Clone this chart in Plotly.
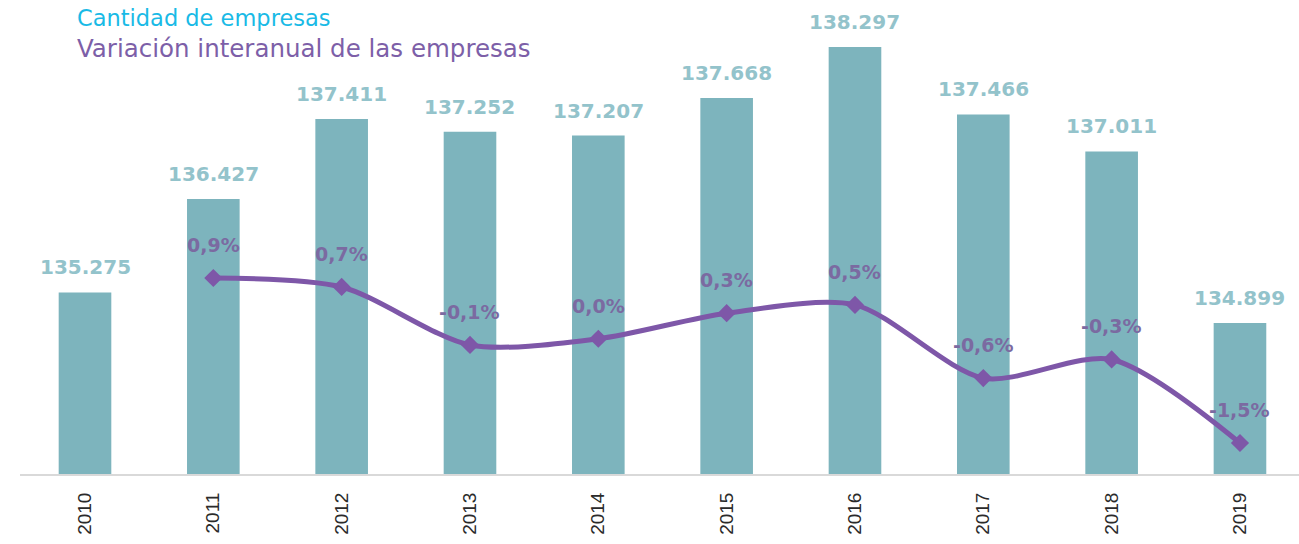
import plotly.graph_objects as go

years = [2010, 2011, 2012, 2013, 2014, 2015, 2016, 2017, 2018, 2019]
empresas = [135275, 136427, 137411, 137252, 137207, 137668, 138297, 137466, 137011, 134899]
empresas_labels = ["135.275", "136.427", "137.411", "137.252", "137.207", "137.668", "138.297", "137.466", "137.011", "134.899"]
var_years = [2011, 2012, 2013, 2014, 2015, 2016, 2017, 2018, 2019]
variacion = [0.85, 0.72, -0.12, -0.03, 0.34, 0.46, -0.60, -0.33, -1.54]
variacion_labels = ["0,9%", "0,7%", "-0,1%", "0,0%", "0,3%", "0,5%", "-0,6%", "-0,3%", "-1,5%"]

BAR = "#7db4bd"
LINE = "#7e57a8"

W, H = 1299, 544
ml, mr, mt, mb = 20, 0, 40, 70
pw, ph = W - ml - mr, H - mt - mb


def px_to_paper(px, py):
    return (px - ml) / pw, (H - mb - py) / ph


fig = go.Figure()
fig.add_trace(go.Bar(x=years, y=empresas, width=0.41, marker_color=BAR,
                     marker_line_width=0, showlegend=False, hoverinfo="skip"))
fig.add_trace(go.Scatter(x=var_years, y=variacion, yaxis="y2", mode="lines+markers",
                         line=dict(color=LINE, width=5, shape="spline", smoothing=0.8),
                         marker=dict(symbol="diamond", size=14, color=LINE),
                         showlegend=False, hoverinfo="skip"))

for x, y, t in zip(years, empresas, empresas_labels):
    fig.add_annotation(x=x, y=y, xref="x", yref="y", text=t, showarrow=False,
                       yanchor="bottom", yshift=11,
                       font=dict(family="DejaVu Sans", size=20, color="#93c3cb", weight="bold"))
for x, y, t in zip(var_years, variacion, variacion_labels):
    fig.add_annotation(x=x, y=y, xref="x", yref="y2", text=t, showarrow=False,
                       yanchor="bottom", yshift=20,
                       font=dict(family="DejaVu Sans", size=19, color="#7b6aa1", weight="bold"))

ax, ay = px_to_paper(75, 3)
fig.add_annotation(x=ax, y=ay, xref="paper", yref="paper", text="Cantidad de empresas",
                   showarrow=False, xanchor="left", yanchor="top",
                   font=dict(family="DejaVu Sans", size=22.5, color="#19bae6"))
ax, ay = px_to_paper(75, 48)
fig.add_annotation(x=ax, y=ay, xref="paper", yref="paper",
                   text="Variación interanual de las empresas",
                   showarrow=False, xanchor="left", yanchor="middle",
                   font=dict(family="DejaVu Sans", size=24.5, color="#7d5fa8"))

fig.update_layout(
    width=W, height=H,
    margin=dict(l=ml, r=mr, t=mt, b=mb),
    plot_bgcolor="white", paper_bgcolor="white",
    separators=",.",
    xaxis=dict(range=[2009.4935, 2019.46], tickmode="array", tickvals=years,
               ticktext=[str(y) for y in years], tickangle=-90,
               tickfont=dict(family="Liberation Sans", size=19, color="#2a2a2a"),
               ticklabelstandoff=9,
               showgrid=False, zeroline=False, showline=True, linecolor="#d9d9d9",
               linewidth=2, ticks=""),
    yaxis=dict(range=[133040, 138383], visible=False, showgrid=False),
    yaxis2=dict(range=[-1.989, 4.297], overlaying="y", visible=False, showgrid=False),
)

fig.write_html("out.html", config={"displayModeBar": False},
               post_script="document.body.style.margin='0';")
